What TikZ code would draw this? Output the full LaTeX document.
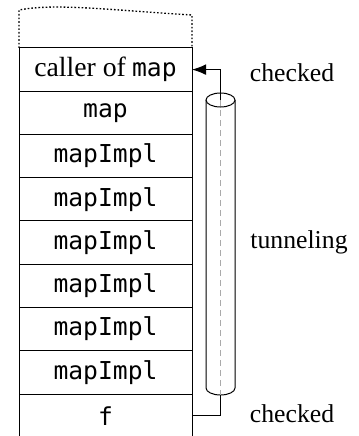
\documentclass[tikz,border=0pt]{standalone}
\usepackage{fontspec}
\setmainfont{Liberation Serif}
\setmonofont{DejaVu Sans Mono}
\usetikzlibrary{positioning,arrows.meta}
\tikzset{every picture/.style={line width=0.75pt}}

\begin{document}
\begin{tikzpicture}[x=0.75pt,y=0.75pt,yscale=-1,xscale=1,
  frame/.style={draw, minimum width=129.75pt, minimum height=32.44pt, inner sep=0pt, outer sep=0pt, font=\fontsize{18.5}{22}\selectfont},
  sidetext/.style={font=\fontsize{19.3}{23}\selectfont}]
\clip (0,0) rectangle (358,436);

%Shape: Rectangle [id:caller]
\node [frame] (caller) at (105.5,69.6) {{\fontsize{20.8}{24}\selectfont caller of} \texttt{map}};
%Shape: Rectangle [id:map]
\node [frame, below=0pt of caller] (map) {\texttt{map}};
%Shape: Rectangle [id:impl1]
\node [frame, below=0pt of map] (impl1) {\texttt{mapImpl}};
%Shape: Rectangle [id:impl2]
\node [frame, below=0pt of impl1] (impl2) {\texttt{mapImpl}};
%Shape: Rectangle [id:impl3]
\node [frame, below=0pt of impl2] (impl3) {\texttt{mapImpl}};
%Shape: Rectangle [id:impl4]
\node [frame, below=0pt of impl3] (impl4) {\texttt{mapImpl}};
%Shape: Rectangle [id:impl5]
\node [frame, below=0pt of impl4] (impl5) {\texttt{mapImpl}};
%Shape: Rectangle [id:impl6]
\node [frame, below=0pt of impl5] (impl6) {\texttt{mapImpl}};
%Shape: Rectangle [id:f]
\node [frame, below=0pt of impl6] (f) {\texttt{f}};

%Dotted top frame
\draw [line width=1pt, dash pattern=on 1.2pt off 1.5pt] (caller.north west) -- (19,10) .. controls (55,3) and (110,10) .. (192,15) -- (caller.north east);

%Shape: Can
\coordinate (ctop) at (220.5,100);
\coordinate (cbot) at (220.5,395);
\draw [fill=white] (206,100) -- (206,388) arc [start angle=180, end angle=0, x radius=14.5, y radius=7] -- (235,100);
\draw [fill=white] (ctop) ellipse [x radius=14.5, y radius=7];
\draw [color={rgb, 255:red, 170; green, 170; blue, 170 }, line width=0.6pt, dash pattern=on 4.5pt off 3pt] (ctop) -- (cbot);

%Straight Lines
\draw [-{Latex[length=10.5pt,width=8pt]}] (ctop) |- (caller.east);
\draw (cbot) |- (f.east);

% Text Node
\node [sidetext] (chktop) at (292,72.5) {checked};
% Text Node
\node [sidetext] (tunnel) at (299,242.5) {tunneling};
% Text Node
\node [sidetext] (chkbot) at (292,414) {checked};

\end{tikzpicture}
\end{document}
